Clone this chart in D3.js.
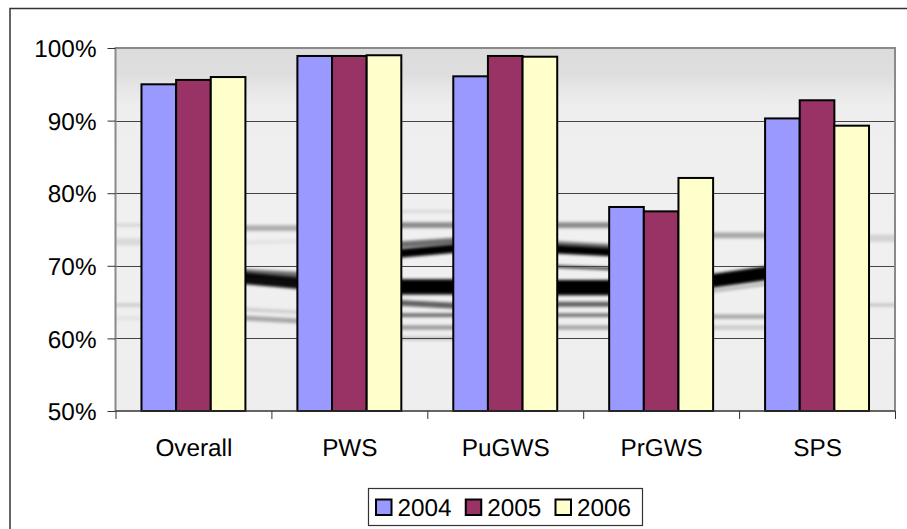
<!DOCTYPE html>
<html><head><meta charset="utf-8">
<script src="https://cdn.jsdelivr.net/npm/d3@7/dist/d3.min.js"></script>
<style>html,body{margin:0;padding:0;background:#fff}svg{display:block}text{font-family:"Liberation Sans",Arial,sans-serif;fill:#000;text-rendering:geometricPrecision}</style>
</head><body><svg id="c" width="907" height="529"></svg>
<script>
const categories=["Overall","PWS","PuGWS","PrGWS","SPS"];
const years=["2004","2005","2006"];
const values2004=[95.0,98.9,96.1,78.1,90.3];
const values2005=[95.6,98.9,98.9,77.5,92.8];
const values2006=[96.0,99.0,98.8,82.1,89.3];
const colors=["#9999ff","#993366","#ffffcc"];
const yTicks=[50,60,70,80,90,100];
// background photo streaks: gap index, start %, end %, thickness (in % units), opacity
const streaks=[
 [0,75.6,75.6,.5,.10],[0,73.3,73.3,1,.09],[0,64.6,64.6,.5,.14],[0,62.8,62.8,.5,.06],
 [1,75.2,75.2,.8,.28],[1,73.2,73.4,.6,.05],[1,69.0,68.6,1.1,.55],[1,68.3,67.6,1.6,.95],[1,64.0,63.6,.5,.14],[1,62.8,62.4,.7,.3],
 [2,77.5,77.5,.4,.1],[2,75.6,75.6,.8,.42],[2,72.9,73.4,.9,.55],[2,71.7,72.4,1.2,1],[2,67.1,67.1,2.1,1],[2,64.9,64.5,.8,.6],[2,63.2,63.2,.5,.55],[2,61.5,61.5,.6,.35],[2,60.0,60.0,.5,.2],
 [3,75.6,75.6,.8,.42],[3,73.0,72.6,.8,.5],[3,72.3,71.9,1.2,1],[3,69.9,69.6,.4,.7],[3,67.0,67.0,2.1,1],[3,64.7,64.7,.7,.6],[3,63.2,63.2,.5,.5],[3,61.5,61.5,.6,.3],
 [4,74.2,74.2,.8,.3],[4,67.9,69.0,1.9,1],[4,66.5,67.5,.4,.25],[4,63.0,63.0,.6,.3],[4,61.5,61.5,.6,.15],
 [5,73.8,73.8,1,.12],[5,64.6,64.6,.5,.16]
];
const svg=d3.select("#c");
const series=[values2004,values2005,values2006];
const L=115.5,R=895,T=48,B=411;
const x=d3.scaleBand().domain(categories).range([L,R]);
const x1=d3.scaleBand().domain(years).range([0,x.bandwidth()]).paddingInner(0).paddingOuter(.75);
const y=d3.scaleLinear().domain([50,100]).range([B,T]);
const defs=svg.append("defs");
const g=defs.append("linearGradient").attr("id","bg").attr("x1",0).attr("x2",0).attr("y1",0).attr("y2",1);
[[0,"#dcdcdc"],[.07,"#dedede"],[.12,"#e8e8e8"],[.16,"#eeeeee"],[.5,"#f0f0f0"],[1,"#eeeeee"]].forEach(s=>g.append("stop").attr("offset",s[0]).attr("stop-color",s[1]));
defs.append("filter").attr("id","blur").attr("filterUnits","userSpaceOnUse").attr("x",0).attr("y",0).attr("width",907).attr("height",529)
  .append("feGaussianBlur").attr("stdDeviation","1.7");
defs.append("clipPath").attr("id","plot").append("rect").attr("x",L).attr("y",T).attr("width",R-L).attr("height",B-T);
// chart frame
svg.append("path").attr("d",`M10,529V8.5H907`).attr("fill","none").attr("stroke","#333").attr("stroke-width",1.5);
svg.append("rect").attr("x",L).attr("y",T).attr("width",R-L).attr("height",B-T).attr("fill","url(#bg)");
// streaks
const gapX=i=>{
  const b=i===0?L:x(categories[i-1])+x1(years[2])+x1.bandwidth();
  const e=i===categories.length?R:x(categories[i])+x1(years[0]);
  return [b,e];
};
const sg=svg.append("g").attr("clip-path","url(#plot)");
sg.selectAll("path").data(streaks).join("path")
  .attr("d",d=>{const[a,b]=gapX(d[0]);return d3.line()([[a-2,y(d[1])],[b+2,y(d[2])]]);})
  .attr("fill","none").attr("stroke","#000").attr("filter","url(#blur)")
  .attr("stroke-width",d=>d[3]*7.26).attr("stroke-opacity",d=>d[4]);
// grid
svg.append("g").selectAll("line").data(yTicks.slice(1,-1)).join("line")
  .attr("x1",L).attr("x2",R).attr("y1",d=>Math.round(y(d))+.5).attr("y2",d=>Math.round(y(d))+.5)
  .attr("stroke","#444").attr("stroke-width",1);
// plot outline
svg.append("path").attr("d",`M${L},${B}V${T}H${R}V${B}`).attr("fill","none").attr("stroke","#8a8a8a").attr("stroke-width",2);
// bars
series.forEach((vals,i)=>{
  svg.append("g").selectAll("rect").data(vals).join("rect")
    .attr("x",(d,j)=>x(categories[j])+x1(years[i]))
    .attr("y",d=>y(d)).attr("width",x1.bandwidth()).attr("height",d=>B-y(d))
    .attr("fill",colors[i]).attr("stroke","#000").attr("stroke-width",2);
});
// axes
const ay=svg.append("g").attr("transform",`translate(${L},0)`).call(d3.axisLeft(y).tickValues(yTicks).tickFormat(d=>d+"%").tickSize(8).tickPadding(11));
ay.select(".domain").remove();
ay.selectAll("line").attr("stroke","#333");
ay.selectAll("text").attr("font-size",24.3).attr("dy",".36em").style("font-family",'"Liberation Sans",Arial,sans-serif');
const edges=d3.axisBottom(d3.scaleLinear().domain([0,5]).range([L,R])).tickValues([0,1,2,3,4,5]).tickSize(8).tickFormat("");
const ax=svg.append("g").attr("transform",`translate(0,${B})`).call(edges);
ax.select(".domain").attr("d",`M${L},0H${R}`).attr("stroke","#333").attr("stroke-width",1.5);
ax.selectAll("line").attr("stroke","#333");
svg.append("g").selectAll("text").data(categories).join("text")
  .attr("x",d=>x(d)+x.bandwidth()/2+.5).attr("y",456).attr("text-anchor","middle").attr("font-size",24.3).text(d=>d);
// legend
svg.append("rect").attr("x",368.5).attr("y",488.5).attr("width",274).attr("height",37).attr("fill","#fff").attr("stroke","#333").attr("stroke-width",1.2);
const lx=d3.scalePoint().domain(years).range([376,555.5]);
const lg=svg.append("g").selectAll("g").data(years).join("g").attr("transform",d=>`translate(${lx(d)},0)`);
lg.append("rect").attr("x",0).attr("y",499.5).attr("width",15.5).attr("height",15.5).attr("fill",(d,i)=>colors[i]).attr("stroke","#000").attr("stroke-width",2);
lg.append("text").attr("x",21.5).attr("y",516).attr("font-size",24.3).text(d=>d);
</script></body></html>
